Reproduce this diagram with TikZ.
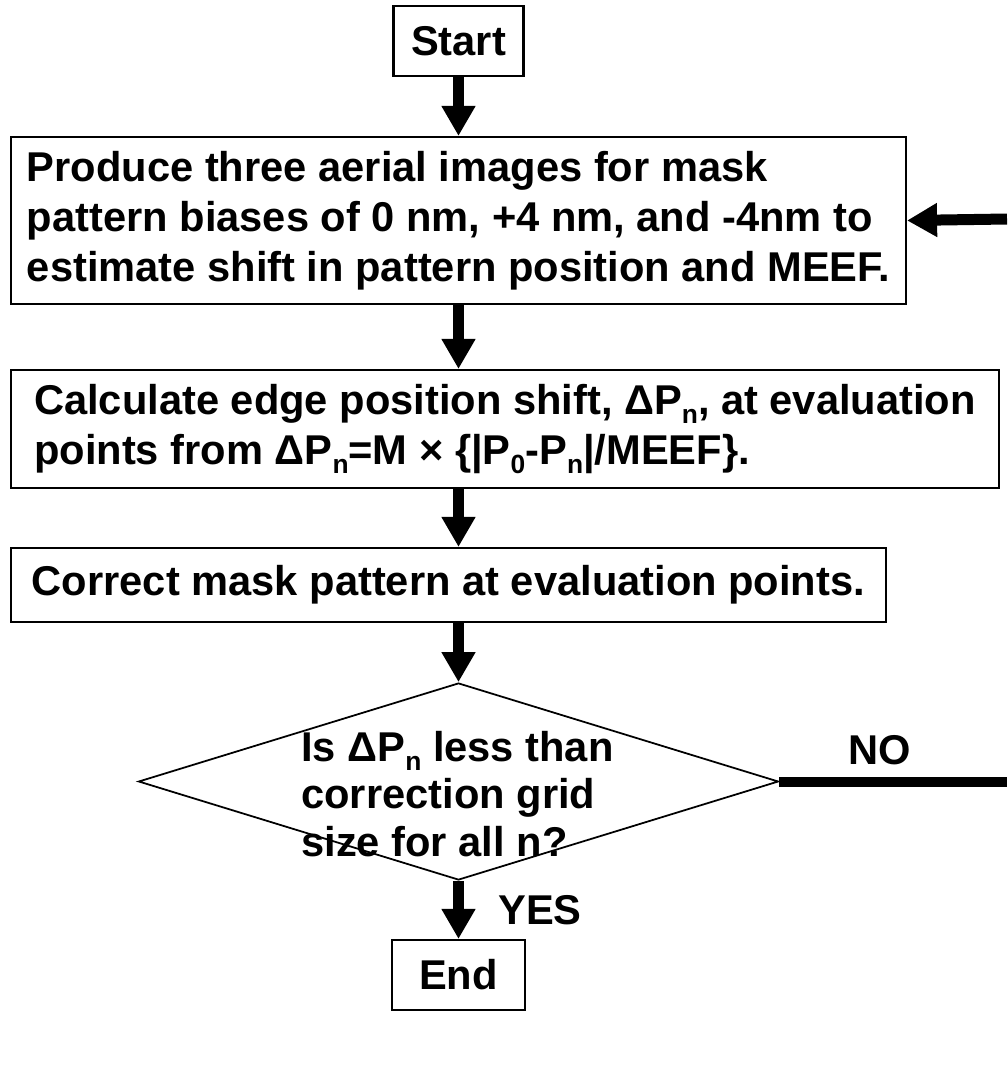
\documentclass[tikz,border=0pt]{standalone}
\usepackage{fontspec}
\setmainfont{Liberation Sans}
\usetikzlibrary{arrows.meta,shapes.geometric}
\newcommand{\lowidx}[1]{\raisebox{-0.4ex}{\fontsize{15}{15}\selectfont #1}}
\tikzset{
  stepbox/.style = {draw, line width=1.2pt, align=flush left, inner sep=0pt},
  decision/.style = {draw, diamond, line width=1pt, inner sep=0pt},
  flow/.style = {line width=0.22cm, -{Triangle[width=0.64cm,length=0.6cm]}},
  every node/.style = {font=\bfseries\fontsize{23.7}{28.5}\selectfont}
}

\begin{document}
\begin{tikzpicture}
  \pgfmathsetmacro{\midx}{9.17}
  \useasboundingbox (0,0) rectangle (20.14,-21.44);
  % boxes
  \node[stepbox, minimum width=2.6cm, minimum height=1.4cm] (start) at (\midx,-0.82) {Start};
  \node[stepbox, minimum width=17.9cm, minimum height=3.34cm] (produce) at (\midx,-4.41)
    {Produce three aerial images for mask\\pattern biases of 0 nm, +4 nm, and -4nm to\\estimate shift in pattern position and MEEF.};
  \node[stepbox, minimum width=19.76cm, minimum height=2.36cm] (calc) at (10.1,-8.58)
    {Calculate edge position shift, ΔP\lowidx{n}, at evaluation\\points from ΔP\lowidx{n}=M × \{|P\lowidx{0}-P\lowidx{n}|/MEEF\}.};
  \node[stepbox, minimum width=17.5cm, minimum height=1.48cm] (correct) at (8.97,-11.7)
    {Correct mask pattern at evaluation points.};
  % decision
  \node[decision, minimum width=12.8cm, minimum height=3.94cm] (check) at (\midx,-15.63) {};
  \node[align=flush left, font=\bfseries\fontsize{23.7}{27}\selectfont] (question) at (9.15,-15.88)
    {Is ΔP\lowidx{n} less than\\correction grid\\size for all n?};
  \node[stepbox, minimum width=2.66cm, minimum height=1.4cm] (end) at (\midx,-19.5) {End};
  % labels
  \node (no) at (17.6,-15.0) {NO};
  \node (yes) at (10.8,-18.2) {YES};
  % loop ends at the page edge
  \coordinate (noout) at (20.14,-15.63);
  \coordinate (backin) at (20.14,-4.38);
  % arrows
  \draw[flow] (start) -- (produce);
  \draw[flow] (produce.south) -- (produce.south |- calc.north);
  \draw[flow] (calc.south -| produce.south) -- (correct.north -| produce.south);
  \draw[flow] (correct.south -| check.north) -- (check.north);
  \draw[flow] (check.south) -- (end.north);
  \draw[line width=0.2cm] (check.east) -- (noout);
  \draw[flow] (backin) -- (produce.east);
\end{tikzpicture}
\end{document}
